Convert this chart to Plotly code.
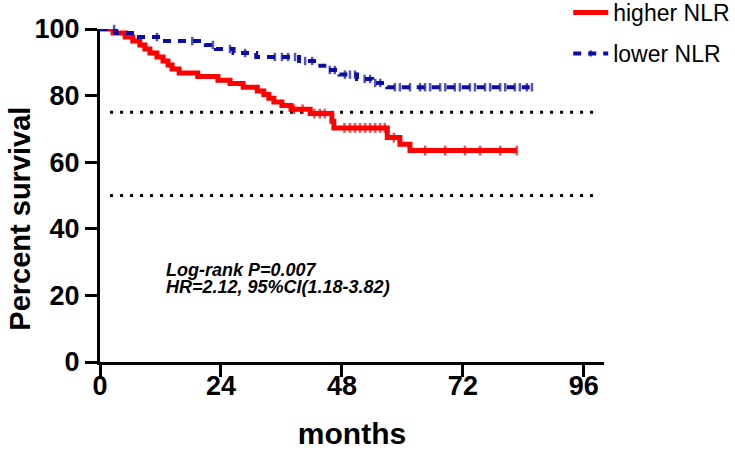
import plotly.graph_objects as go

# ---------------- data ----------------
high_name = "higher NLR"
low_name = "lower NLR"

# Kaplan-Meier steps (months, percent survival)
high_t = [0, 2.6, 5.0, 6.5, 7.9, 8.9, 9.9, 11.3, 12.5, 13.5, 14.3, 15.7,
          19.4, 23.4, 25.8, 28.4, 31.2, 32.5, 33.5, 34.5, 36.1, 37.9, 41.7,
          46.0, 46.4, 57.0, 59.5, 61.5]
high_s = [100, 98.8, 97.6, 96.4, 95.2, 94.0, 92.8, 91.6, 90.4, 89.2, 88.0, 86.8,
          85.7, 84.6, 83.6, 82.5, 81.4, 80.3, 79.2, 78.1, 77.0, 75.9, 74.6,
          72.3, 70.3, 67.4, 65.4, 63.5]
high_cens = [38.5, 40.2, 42.5, 43.6, 44.6, 48.5, 49.6, 50.6, 51.6, 52.6, 53.6,
             54.6, 55.6, 56.5, 58.3, 64.5, 68.5, 72.4, 75.4, 79.4, 82.7]

low_t = [0, 3.2, 7.0, 12.0, 21.0, 23.0, 26.5, 31.0, 39.5, 43.3, 45.0, 47.5,
         51.0, 54.0, 57.0]
low_s = [100, 98.8, 97.6, 96.4, 95.2, 94.0, 92.8, 91.6, 90.4, 89.0, 87.7, 86.3,
         85.0, 83.8, 82.5]
low_cens = [2.8, 11.3, 18.3, 22.4, 25.8, 28.8, 34.7, 36.1, 37.3, 38.7, 40.7,
            42.1, 45.6, 46.6, 48.6, 49.6, 50.6, 52.5, 53.6, 54.6, 55.6, 58.5,
            59.5, 61.5, 63.5, 64.5, 65.5, 67.5, 68.5, 70.4, 71.4, 73.4, 74.4,
            76.4, 77.4, 79.4, 80.4, 82.3, 83.3, 84.7, 85.7]

ref_levels = [75, 50]
ref_span = [2, 98]

x_ticks = [0, 24, 48, 72, 96]
y_ticks = [0, 20, 40, 60, 80, 100]

x_title = "months"
y_title = "Percent survival"
annot_lines = ["Log-rank P=0.007", "HR=2.12, 95%CI(1.18-3.82)"]


def km_points(t, s, cens, tick):
    pts = [(ti, si, 0) for ti, si in zip(t, s)]
    for c in cens:
        idx = max(i for i, ti in enumerate(t) if ti <= c)
        pts.append((c, s[idx], tick))
    pts.sort(key=lambda p: (p[0], p[2]))
    return [p[0] for p in pts], [p[1] for p in pts], [p[2] for p in pts]


FONT = "Liberation Sans, Arial, sans-serif"
RED = "#ff0000"
BLUE = "#0c0ca8"

fig = go.Figure()

hx, hy, hsz = km_points(high_t, high_s, high_cens, 7)
fig.add_trace(go.Scatter(
    x=hx, y=hy, mode="lines+markers", name=high_name,
    line=dict(color=RED, width=5, shape="hv"),
    marker=dict(symbol="line-ns", size=hsz, color=RED,
                line=dict(color=RED, width=2.5)),
    legendgroup="a", cliponaxis=False,
))

lx, ly, lsz = km_points(low_t, low_s, low_cens, 6)
fig.add_trace(go.Scatter(
    x=lx, y=ly, mode="lines+markers", name=low_name,
    line=dict(color=BLUE, width=4, shape="hv", dash="8px,7px"),
    marker=dict(symbol="line-ns", size=lsz, color=BLUE,
                line=dict(color=BLUE, width=2.5)),
    legendgroup="b", cliponaxis=False,
))

for lvl in ref_levels:
    fig.add_shape(type="line", xref="x", yref="y",
                  x0=ref_span[0], x1=ref_span[1], y0=lvl, y1=lvl,
                  line=dict(color="black", width=3, dash="3px,7px"),
                  layer="below")

fig.add_annotation(x=12.6, y=27.6, xref="x", yref="y", xanchor="left",
                   yanchor="middle", showarrow=False,
                   text="<b><i>%s</i></b>" % annot_lines[0],
                   font=dict(family=FONT, size=18, color="black"))
fig.add_annotation(x=12.6, y=22.5, xref="x", yref="y", xanchor="left",
                   yanchor="middle", showarrow=False,
                   text="<b><i>%s</i></b>" % annot_lines[1],
                   font=dict(family=FONT, size=18, color="black"))

# y-axis title placed as rotated text (sits slightly below the axis centre)
fig.add_annotation(x=-0.159, y=0.43, xref="paper", yref="paper",
                   xanchor="center", yanchor="middle", showarrow=False,
                   textangle=-90, text="<b>%s</b>" % y_title,
                   font=dict(family=FONT, size=29, color="black"))

axis_common = dict(
    showgrid=False, zeroline=False, showline=True, linecolor="black",
    linewidth=3, ticks="outside", ticklen=12, tickwidth=3, tickcolor="black",
    tickfont=dict(family=FONT, size=27, color="black"),
)

fig.update_layout(
    width=735, height=450,
    margin=dict(l=100, r=131, t=29, b=88, autoexpand=False),
    paper_bgcolor="white", plot_bgcolor="white",
    font=dict(family=FONT, color="black"),
    showlegend=True,
    legend=dict(x=0.929, y=1.114, xanchor="left", yanchor="top",
                font=dict(family=FONT, size=23, color="black"),
                traceorder="grouped", tracegroupgap=8, itemwidth=35,
                bgcolor="rgba(0,0,0,0)"),
    xaxis=dict(range=[0, 100], tickvals=x_ticks,
               ticktext=["<b>%d</b>" % v for v in x_ticks],
               ticklabelstandoff=-14,
               title=dict(text="<b>%s</b>" % x_title,
                          font=dict(family=FONT, size=30, color="black"),
                          standoff=24),
               **axis_common),
    yaxis=dict(range=[0, 100], tickvals=y_ticks,
               ticktext=["<b>%d</b>" % v for v in y_ticks],
               **axis_common),
)

fig.write_html("out.html",
               config={"displayModeBar": False},
               post_script="document.body.style.margin='0';"
                           "document.body.style.overflow='hidden';")
